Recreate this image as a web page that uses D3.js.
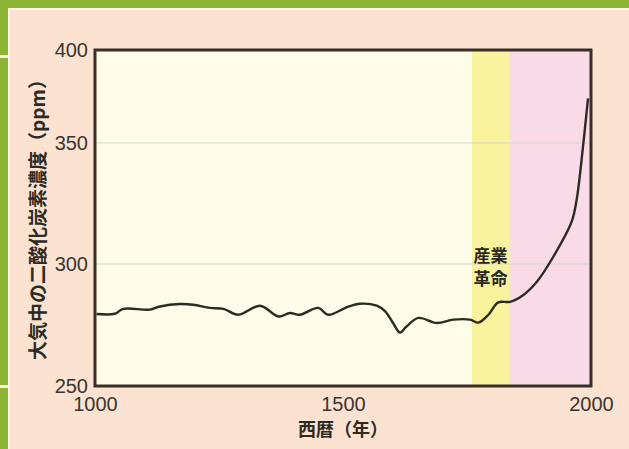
<!DOCTYPE html>
<html>
<head>
<meta charset="utf-8">
<script src="https://cdn.jsdelivr.net/npm/d3@7"></script>
<style>
  body { margin: 0; background: #fce3d1; }
  svg { display: block; }
</style>
</head>
<body>
<script>
// data
let years = [1003, 1040, 1057, 1111, 1131, 1171, 1198, 1232, 1259, 1289, 1333, 1370, 1393, 1413,
             1450, 1470, 1507, 1534, 1568, 1585, 1601, 1615, 1628, 1652, 1689, 1722, 1756, 1773,
             1793, 1813, 1837, 1863, 1890, 1924, 1961, 1971, 1981, 1994];
let co2 = [279.5, 279.6, 281.6, 281.3, 282.6, 283.6, 283.3, 282.0, 281.6, 279.2, 282.9, 278.5, 279.9, 279.2,
           282.0, 279.2, 282.2, 283.7, 282.9, 280.6, 275.8, 271.9, 274.4, 277.9, 275.8, 277.2, 277.2, 276.0,
           279.2, 284.3, 284.5, 287.2, 292.5, 303.0, 317.5, 326.5, 343.0, 374.0];
let yTicks = [250, 300, 350, 400];
let xTicks = [1000, 1500, 2000];
let gridTicks = [300, 350];
let eraStart = [1760, 1835];
let eraEnd = [1835, 2000];
let eraColor = ["#f8f39c", "#f9dbe8"];
let eraLabel = ["産業", "革命"];

let W = 629, H = 449;
let margin = {top: 50, right: 38, bottom: 63, left: 95},
    width = W - margin.left - margin.right,
    height = H - margin.top - margin.bottom;

let root = d3.select("body").append("svg")
    .attr("width", W)
    .attr("height", H);

// page background and green book border
root.append("rect").attr("width", W).attr("height", H).attr("fill", "#fce3d1");
root.append("rect").attr("width", W).attr("height", 10).attr("fill", "#fff3e6");
root.append("rect").attr("width", 10).attr("height", H).attr("fill", "#fff3e6");
root.append("rect").attr("width", W).attr("height", 8).attr("fill", "#8cb534");
root.append("rect").attr("width", 8).attr("height", H).attr("fill", "#8cb534");
root.append("rect").attr("y", 55).attr("width", 8).attr("height", 3).attr("fill", "#f4f0e0");
root.append("rect").attr("y", 385).attr("width", 8).attr("height", 3).attr("fill", "#f4f0e0");

let svg = root.append("g")
    .attr("transform", "translate(" + margin.left + "," + margin.top + ")");

let x = d3.scaleLinear()
    .domain([1000, 2000])
    .range([0, width]);

// the original puts 400 at the frame top, so the upper segment is compressed
let y = d3.scaleLinear()
    .domain([250, 300, 350, 400])
    .range([height, 214, 93, 0]);

// plot background
svg.append("rect")
    .attr("width", width)
    .attr("height", height)
    .attr("fill", "#fefde9");

svg.selectAll(".era")
    .data(eraStart)
    .enter().append("rect")
    .attr("x", (d) => x(d))
    .attr("y", 0)
    .attr("width", (d, i) => x(eraEnd[i]) - x(d))
    .attr("height", height)
    .attr("fill", (d, i) => eraColor[i]);

// gridlines
svg.selectAll(".grid")
    .data(gridTicks)
    .enter().append("line")
    .attr("x1", 0)
    .attr("x2", width)
    .attr("y1", (d) => y(d))
    .attr("y2", (d) => y(d))
    .attr("stroke", "#d6d3c6")
    .attr("stroke-width", 1.2);

// label for industrial revolution
svg.append("text")
    .attr("x", x((eraStart[0] + eraEnd[0]) / 2))
    .attr("y", 212)
    .attr("text-anchor", "middle")
    .style("font-family", "'Noto Sans CJK JP'")
    .style("font-weight", "bold")
    .style("font-size", "17px")
    .attr("fill", "#2a2620")
    .selectAll("tspan")
    .data(eraLabel)
    .enter().append("tspan")
    .attr("x", x((eraStart[0] + eraEnd[0]) / 2))
    .attr("dy", (d, i) => i === 0 ? 0 : 23)
    .text((d) => d);

// the line
svg.append("path")
    .datum(years)
    .attr("fill", "none")
    .attr("stroke", "#2e2a22")
    .attr("stroke-width", 2.4)
    .attr("stroke-linejoin", "round")
    .attr("d", d3.line()
        .curve(d3.curveCatmullRom.alpha(0.5))
        .x(function(d) { return x(d) })
        .y(function(d, i) { return y(co2[i]) })
    );

// frame
svg.append("rect")
    .attr("width", width)
    .attr("height", height)
    .attr("fill", "none")
    .attr("stroke", "#3a2f28")
    .attr("stroke-width", 3);

// axes
let xAxis = svg.append("g")
    .attr("transform", "translate(0," + height + ")")
    .call(d3.axisBottom(x).tickValues(xTicks).tickFormat(d3.format("d")).tickSize(0).tickPadding(11));
let yAxis = svg.append("g")
    .call(d3.axisLeft(y).tickValues(yTicks).tickSize(0).tickPadding(7));

[xAxis, yAxis].forEach(function(a) {
    a.select(".domain").remove();
    a.selectAll("text")
        .style("font-family", "'Liberation Sans', Arial, sans-serif")
        .style("font-size", "20px")
        .attr("fill", "#3a3430");
});

// axis titles
svg.append("text")
    .attr("x", width / 2)
    .attr("y", height + 50)
    .attr("text-anchor", "middle")
    .style("font-family", "'Noto Sans CJK JP'")
    .style("font-weight", "bold")
    .style("font-size", "18px")
    .attr("fill", "#2d2a24")
    .text("西暦（年）");

svg.append("text")
    .attr("transform", "translate(-50," + (height / 2 - 3) + ") rotate(-90)")
    .attr("text-anchor", "middle")
    .style("font-family", "'Noto Sans CJK JP'")
    .style("font-weight", "bold")
    .style("font-size", "19px")
    .attr("fill", "#2d2a24")
    .text("大気中の二酸化炭素濃度（ppm）");
</script>
</body>
</html>
